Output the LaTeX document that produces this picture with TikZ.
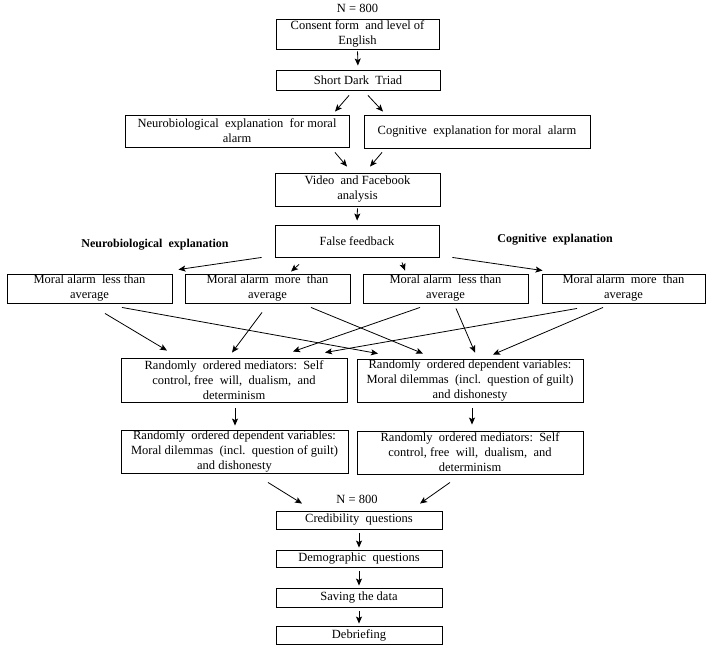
\documentclass[tikz,border=0pt]{standalone}
\usepackage{fontspec}
\setmainfont{Liberation Serif}
\usetikzlibrary{arrows.meta,calc}
\begin{document}
\begin{tikzpicture}[x=1pt,y=-1pt,
  box/.style={draw, line width=0.9pt, align=center, inner sep=0pt, font=\fontsize{12.5}{15}\selectfont, anchor=center},
  arr/.style={line width=0.8pt, -{Stealth[length=7pt,width=6pt,inset=1.5pt]}},
  lbl/.style={font=\fontsize{12.5}{15}\selectfont, inner sep=0pt},
  blbl/.style={font=\fontsize{12}{15}\selectfont\bfseries, inner sep=0pt}
  ]
\useasboundingbox (0,0) rectangle (708,647);

% labels
\node[lbl] (n1) at (357.5,8) {N = 800};
\node[lbl] (n2) at (357,499) {N = 800};
\node[blbl] (lneuro) at (155,245) {Neurobiological\ \ explanation};
\node[blbl] (lcog) at (555,240) {Cognitive\ \ explanation};

% boxes
\node[box, minimum width=163pt, minimum height=30pt] (consent) at (357.5,34) {Consent form\ \ and level\ of\\English};
\node[box, minimum width=164pt, minimum height=20pt] (sdt) at (358,80) {Short Dark\ \ Triad};
\node[box, minimum width=224pt, minimum height=32pt] (neuro) at (237,131) {Neurobiological\ \ explanation\ \ for moral\\alarm};
\node[box, minimum width=226pt, minimum height=33pt] (cog) at (477,131.5) {Cognitive\ \ explanation for moral\ \ alarm};
\node[box, minimum width=165pt, minimum height=33pt] (video) at (357.5,189.5) {Video\ \ and Facebook\\analysis};
\node[box, minimum width=164pt, minimum height=32pt] (false) at (357,241) {False feedback};

\node[box, minimum width=165pt, minimum height=29pt] (b1) at (89.5,288.5) {Moral alarm\ \ less than\\average};
\node[box, minimum width=165pt, minimum height=29pt] (b2) at (267.5,288.5) {Moral alarm\ \ more\ \ than\\average};
\node[box, minimum width=165pt, minimum height=29pt] (b3) at (445.5,288.5) {Moral alarm\ \ less than\\average};
\node[box, minimum width=163pt, minimum height=29pt] (b4) at (623.5,288.5) {Moral alarm\ \ more\ \ than\\average};

\node[box, minimum width=226pt, minimum height=44pt] (midL) at (234,380) {Randomly\ \ ordered mediators:\ \ Self\\control, free\ \ will,\ \ dualism,\ \ and\\determinism};
\node[box, minimum width=226pt, minimum height=43pt] (midR) at (470,380.5) {Randomly\ \ ordered dependent variables:\\Moral dilemmas\ \ (incl.\ \ question of guilt)\\and dishonesty};

\node[box, minimum width=227pt, minimum height=43pt] (lowL) at (234.5,451.5) {Randomly\ \ ordered dependent variables:\\Moral dilemmas\ \ (incl.\ \ question of guilt)\\and dishonesty};
\node[box, minimum width=226pt, minimum height=43pt] (lowR) at (470,452.5) {Randomly\ \ ordered mediators:\ \ Self\\control, free\ \ will,\ \ dualism,\ \ and\\determinism};

\node[box, minimum width=166pt, minimum height=18pt] (cred) at (359,520) {Credibility\ \ questions};
\node[box, minimum width=166pt, minimum height=17pt] (demo) at (359,558.5) {Demographic\ \ questions};
\node[box, minimum width=166pt, minimum height=19pt] (save) at (359,597.5) {Saving the data};
\node[box, minimum width=166pt, minimum height=18pt] (debrief) at (359,635) {Debriefing};

% arrows top
\draw[arr, shorten <=2pt, shorten >=4pt] (consent.south) -- (sdt.north);
\draw[arr] ($(sdt.south)+(-9,5)$) -- ($(neuro.north)+(98,-3)$);
\draw[arr] ($(sdt.south)+(10,5)$) -- ($(cog.north)+(-94,-3)$);
\draw[arr] ($(neuro.south)+(98,5)$) -- ($(video.north)+(-10.5,-6)$);
\draw[arr] ($(cog.south)+(-95,4)$) -- ($(video.north)+(12.5,-6)$);
\draw[arr, shorten <=2pt, shorten >=4pt] (video.south) -- (false.north);

% false feedback to four
\draw[arr] ($(false.south west)+(-13,0)$) -- ($(b1.north east)+(6,-4)$);
\draw[arr] ($(false.south)+(-58,7)$) -- ($(b2.north)+(23.5,-2)$);
\draw[arr] ($(false.south)+(45,5)$) -- ($(b3.north)+(-40.5,-3)$);
\draw[arr] ($(false.south east)+(13,0)$) -- ($(b4.north west)+(1,-3)$);

% four to middle
\draw[arr] ($(b1.south)+(15.5,10)$) -- ($(midL.north)+(-67,-7)$);
\draw[arr] ($(b1.south)+(32.5,4)$) -- ($(midR.north)+(-92,-5)$);
\draw[arr] ($(b2.south)+(-5.5,9)$) -- ($(midL.north)+(-2,-5)$);
\draw[arr] ($(b2.south)+(43.5,4)$) -- ($(midR.north)+(-47,-5)$);
\draw[arr] ($(b3.south)+(-25.5,4)$) -- ($(midL.north)+(59,-6)$);
\draw[arr] ($(b3.south)+(10.5,5)$) -- ($(midR.north)+(5,-6)$);
\draw[arr] ($(b4.south)+(-46.5,5)$) -- ($(midL.north)+(91,-5)$);
\draw[arr] ($(b4.south)+(-20.5,4)$) -- ($(midR.north)+(23,-4)$);

% middle to lower
\draw[arr] ($(midL.south)+(1,6)$) -- ($(lowL.north)+(0.5,-4)$);
\draw[arr] ($(midR.south)+(2,6)$) -- ($(lowR.north)+(2,-6)$);

% lower to credibility
\draw[arr] ($(lowL.south)+(33.5,9)$) -- ($(cred.north)+(-57,-7)$);
\draw[arr] ($(lowR.south)+(-20,8)$) -- ($(cred.north)+(61,-7)$);

% bottom chain
\draw[arr, shorten <=4pt, shorten >=2pt] (cred.south) -- (demo.north);
\draw[arr, shorten <=4pt, shorten >=2pt] (demo.south) -- (save.north);
\draw[arr, shorten <=4pt, shorten >=2pt] (save.south) -- (debrief.north);
\end{tikzpicture}
\end{document}
